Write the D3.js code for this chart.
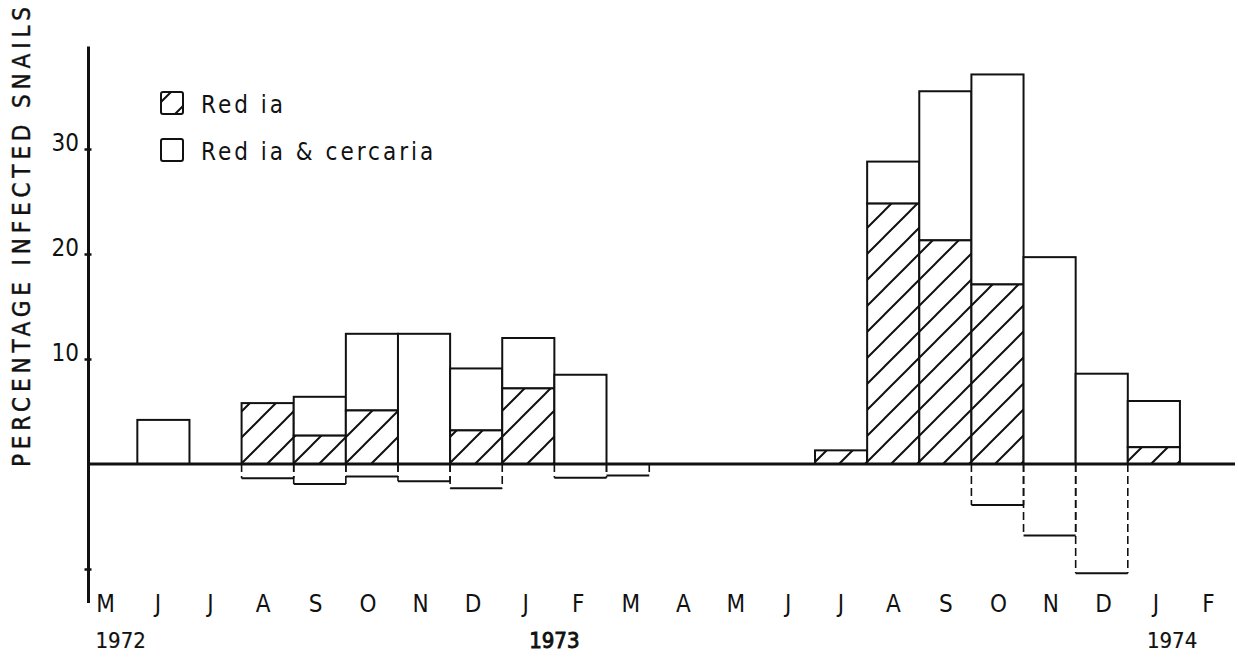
<!DOCTYPE html>
<html>
<head>
<meta charset="utf-8">
<script src="https://cdn.jsdelivr.net/npm/d3@7"></script>
<style>
  html, body { margin: 0; padding: 0; background: #fff; }
  svg { display: block; }
  text { font-family: "DejaVu Sans Condensed", "DejaVu Sans", sans-serif; fill: #111; }
</style>
</head>
<body>
<svg id="chart" width="1238" height="657"></svg>
<script>
// ---- data (month index 0 = May 1972) ----
const months = ["M","J","J","A","S","O","N","D","J","F","M","A","M","J","J","A","S","O","N","D","J","F"];
const yearLabels = ["1972", "1973", "1974"];
const yearAt = [0.68, 9.0, 20.85];          // month-index position of each year label
// total % infected (redia + redia & cercaria)
const totalValues = [null, 4.2, null, 5.8, 6.4, 12.4, 12.4, 9.1, 12.0, 8.5, null, null, null, null, 1.3, 28.8, 35.5, 37.1, 19.7, 8.6, 6.0, null];
// % infected with redia only (hatched part)
const rediaValues = [null, 0, null, 5.8, 2.7, 5.1, 0, 3.2, 7.2, 0, null, null, null, null, 1.3, 24.8, 21.3, 17.1, 0, 0, 1.6, null];
// values drawn below the baseline
const negValues = [null, null, null, -1.35, -1.9, -1.2, -1.65, -2.3, null, -1.3, -1.1, null, null, null, null, null, null, -3.9, -6.8, -10.4, null, null];
// fraction of the month covered by the lower value
const negPeriodFraction = [1,1,1,1,1,1,1,1,1,1,0.82,1,1,1,1,1,1,1,1,1,1,1];
const yTickValues = [-10, 10, 20, 30];
const legendItems = ["Red ia", "Red ia & cercaria"];
const yTitle = "PERCENTAGE  INFECTED  SNAILS";

// ---- layout ----
const svg = d3.select("#chart");
const x = d3.scaleLinear().domain([0, 22]).range([85.2, 85.2 + 22 * 52.13]);
const labelX = d3.scaleLinear().domain([0, 21]).range([105.5, 1208.5]);
const y = d3.scaleLinear().domain([-13.2, 39.8]).range([602.6, 46.1]);
const axisX = 88;

const defs = svg.append("defs");
const pat = defs.append("pattern")
  .attr("id", "hatch").attr("patternUnits", "userSpaceOnUse")
  .attr("width", 26).attr("height", 26)
  .attr("patternTransform", "translate(0,3)");
pat.append("rect").attr("width", 26).attr("height", 26).attr("fill", "#fff");
pat.append("path")
  .attr("d", "M-2,2 L2,-2 M0,26 L26,0 M24,28 L28,24")
  .attr("stroke", "#111").attr("stroke-width", 2);

// ---- negative (lower) step outlines ----
const negG = svg.append("g");
negValues.forEach((v, i) => {
  if (v === null) return;
  const x0 = x(i), x1 = x(i + negPeriodFraction[i]);
  [x0, x1].forEach(xx => {
    negG.append("line").attr("x1", xx).attr("x2", xx).attr("y1", y(0)).attr("y2", y(v))
      .attr("stroke", "#111").attr("stroke-width", 1.6).attr("stroke-dasharray", "8,4");
  });
  negG.append("line").attr("x1", x0).attr("x2", x1).attr("y1", y(v)).attr("y2", y(v))
    .attr("stroke", "#111").attr("stroke-width", 2);
});

// ---- bars ----
const barG = svg.append("g");
totalValues.forEach((t, i) => {
  if (t === null) return;
  const r = rediaValues[i] || 0;
  if (t > r) {
    barG.append("rect")
      .attr("x", x(i)).attr("width", x(i + 1) - x(i))
      .attr("y", y(t)).attr("height", y(r) - y(t))
      .attr("fill", "#fff").attr("stroke", "#111").attr("stroke-width", 2);
  }
  if (r > 0) {
    barG.append("rect")
      .attr("x", x(i)).attr("width", x(i + 1) - x(i))
      .attr("y", y(r)).attr("height", y(0) - y(r))
      .attr("fill", "url(#hatch)").attr("stroke", "#111").attr("stroke-width", 2);
  }
});

// ---- baseline ----
svg.append("line")
  .attr("x1", axisX).attr("x2", 1235)
  .attr("y1", y(0)).attr("y2", y(0))
  .attr("stroke", "#111").attr("stroke-width", 3);

// ---- y axis ----
const yAxis = d3.axisLeft(y)
  .tickValues(yTickValues)
  .tickSizeInner(3).tickSizeOuter(0)
  .tickFormat(d => d > 0 ? d : "");
const ya = svg.append("g").attr("transform", `translate(${axisX},0)`).call(yAxis);
ya.select(".domain").attr("stroke", "#111").attr("stroke-width", 3);
ya.selectAll(".tick line").attr("x1", -3.5).attr("x2", 3.5).attr("stroke", "#111").attr("stroke-width", 2.5);
ya.selectAll(".tick text")
  .attr("x", -9).attr("dy", "0.05em")
  .style("font-size", "24px").style("font-family", "'DejaVu Sans Condensed', 'DejaVu Sans', sans-serif")
  .attr("fill", "#111");

// ---- y title ----
svg.append("text")
  .attr("transform", `translate(30,237) rotate(-90)`)
  .attr("text-anchor", "middle")
  .attr("textLength", 460).attr("lengthAdjust", "spacing")
  .style("font-size", "24px")
  .attr("stroke", "#111").attr("stroke-width", 0.4)
  .text(yTitle);

// ---- month labels ----
svg.append("g").selectAll("text").data(months).join("text")
  .attr("x", (d, i) => labelX(i))
  .attr("y", 612)
  .attr("text-anchor", "middle")
  .style("font-size", "24px")
  .text(d => d);

svg.append("g").selectAll("text").data(yearLabels).join("text")
  .attr("x", (d, i) => x(yearAt[i]))
  .attr("y", 648)
  .attr("text-anchor", "middle")
  .style("font-size", "22px")
  .attr("stroke", "#111")
  .attr("stroke-width", (d, i) => i === 1 ? 0.9 : 0.2)
  .text(d => d);

// ---- legend ----
const lg = svg.append("g");
legendItems.forEach((lab, k) => {
  const yy = 92 + k * 47;
  lg.append("rect").attr("x", 161).attr("y", yy).attr("width", 22).attr("height", 22)
    .attr("rx", 2)
    .attr("fill", k === 0 ? "url(#hatch)" : "#fff")
    .attr("stroke", "#111").attr("stroke-width", 2);
  lg.append("text").attr("x", 201).attr("y", yy + 21)
    .style("font-size", "24px").style("letter-spacing", "3px")
    .text(lab);
});
</script>
</body>
</html>
